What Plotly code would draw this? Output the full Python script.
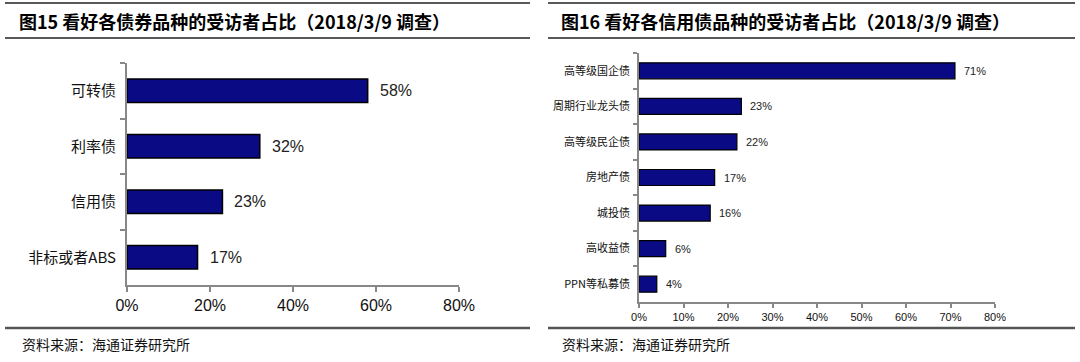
import plotly.graph_objects as go

# Left chart data
left_cats = ["可转债", "利率债", "信用债", "非标或者ABS"]
left_vals = [0.58, 0.32, 0.23, 0.17]
left_ticks = [0, 0.2, 0.4, 0.6, 0.8]

# Right chart data
right_cats = ["高等级国企债", "周期行业龙头债", "高等级民企债", "房地产债", "城投债", "高收益债", "PPN等私募债"]
right_vals = [0.71, 0.23, 0.22, 0.17, 0.16, 0.06, 0.04]
right_ticks = [0, 0.1, 0.2, 0.3, 0.4, 0.5, 0.6, 0.7, 0.8]

title_left = "图15 看好各债券品种的受访者占比（2018/3/9 调查）"
title_right = "图16 看好各信用债品种的受访者占比（2018/3/9 调查）"
source = "资料来源：海通证券研究所"

W, H = 1080, 362
def px(x): return x / W
def py(y): return 1 - y / H

CJK = "Noto Sans CJK SC"
LAT = "Liberation Sans, Arial"
BAR = "#0a0a84"

fig = go.Figure()
fig.add_trace(go.Bar(x=left_vals, y=left_cats, orientation="h", xaxis="x", yaxis="y",
                     marker=dict(color=BAR, line=dict(color="#000000", width=1.5)),
                     width=0.42, hoverinfo="skip"))
fig.add_trace(go.Bar(x=right_vals, y=right_cats, orientation="h", xaxis="x2", yaxis="y2",
                     marker=dict(color=BAR, line=dict(color="#000000", width=1.2)),
                     width=0.45, hoverinfo="skip"))

ann = []
for c, v in zip(left_cats, left_vals):
    ann.append(dict(x=v, y=c, xref="x", yref="y", text=f"{round(v*100)}%", showarrow=False,
                    xanchor="left", xshift=10, font=dict(family=LAT, size=16, color="#222")))
for c, v in zip(right_cats, right_vals):
    ann.append(dict(x=v, y=c, xref="x2", yref="y2", text=f"{round(v*100)}%", showarrow=False,
                    xanchor="left", xshift=7, font=dict(family=LAT, size=11, color="#222")))

ann.append(dict(x=px(18), y=py(21), xref="paper", yref="paper", text=f"<b>{title_left}</b>",
                showarrow=False, xanchor="left", yanchor="middle", borderpad=0,
                font=dict(family=CJK, size=18, color="#000")))
ann.append(dict(x=px(560), y=py(21), xref="paper", yref="paper", text=f"<b>{title_right}</b>",
                showarrow=False, xanchor="left", yanchor="middle", borderpad=0,
                font=dict(family=CJK, size=18, color="#000")))
ann.append(dict(x=px(21), y=py(344), xref="paper", yref="paper", text=source,
                showarrow=False, xanchor="left", yanchor="middle", borderpad=0,
                font=dict(family=CJK, size=14, color="#111")))
ann.append(dict(x=px(561), y=py(344), xref="paper", yref="paper", text=source,
                showarrow=False, xanchor="left", yanchor="middle", borderpad=0,
                font=dict(family=CJK, size=14, color="#111")))

shapes = []
for x0, x1 in [(5, 530), (548, 1075)]:
    shapes.append(dict(type="line", xref="paper", yref="paper", x0=px(x0), x1=px(x1),
                       y0=py(3), y1=py(3), line=dict(color="#222", width=1.5)))
    shapes.append(dict(type="line", xref="paper", yref="paper", x0=px(x0), x1=px(x1),
                       y0=py(38), y1=py(38), line=dict(color="#222", width=1.5)))
    shapes.append(dict(type="line", xref="paper", yref="paper", x0=px(x0), x1=px(x1),
                       y0=py(328), y1=py(328), line=dict(color="#555", width=2.5)))

fig.update_layout(
    width=W, height=H, margin=dict(l=0, r=0, t=0, b=0, autoexpand=False),
    paper_bgcolor="white", plot_bgcolor="white", showlegend=False,
    annotations=ann, shapes=shapes, bargap=0.5,
    xaxis=dict(domain=[px(127), px(459)], range=[0, 0.8], tickvals=left_ticks, tickformat=".0%",
               showgrid=False, zeroline=False, showline=True, linecolor="#888", linewidth=2,
               ticks="outside", ticklen=5, tickcolor="#888", tickwidth=2,
               tickfont=dict(family=LAT, size=16, color="#111"), anchor="y", fixedrange=True),
    yaxis=dict(domain=[py(285), py(63)], autorange="reversed", type="category",
               showgrid=False, zeroline=False, showline=True, linecolor="#888", linewidth=2,
               ticks="outside", tickson="boundaries", ticklen=5, tickcolor="#888", tickwidth=2,
               tickfont=dict(family=CJK, size=15, color="#111"), anchor="x", fixedrange=True,
               ticklabelstandoff=6),
    xaxis2=dict(domain=[px(639), px(995)], range=[0, 0.8], tickvals=right_ticks, tickformat=".0%",
                showgrid=False, zeroline=False, showline=True, linecolor="#888", linewidth=1.5,
                ticks="outside", ticklen=4, tickcolor="#888", tickwidth=1.5,
                tickfont=dict(family=LAT, size=11, color="#111"), anchor="y2", fixedrange=True),
    yaxis2=dict(domain=[py(302), py(53)], autorange="reversed", type="category",
                showgrid=False, zeroline=False, showline=True, linecolor="#888", linewidth=1.5,
                ticks="outside", tickson="boundaries", ticklen=4, tickcolor="#888", tickwidth=1.5,
                tickfont=dict(family=CJK, size=11, color="#111"), anchor="x2", fixedrange=True,
                ticklabelstandoff=5),
)

fig.write_html("out.html", config={"displayModeBar": False},
               post_script="document.body.style.margin='0';document.body.style.overflow='hidden';")
